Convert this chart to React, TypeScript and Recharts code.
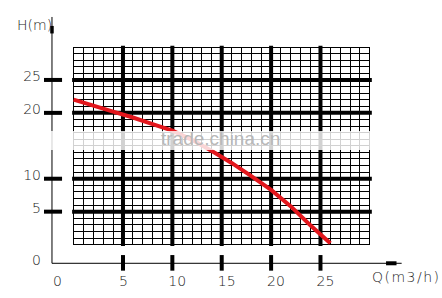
import { LineChart, Line, XAxis, YAxis, ReferenceLine } from 'recharts';

// pump curve: flow Q (m3/h) vs head H (m)
const flowRate = [0, 2, 4, 6, 8, 10, 12, 14, 16, 18, 20, 22, 24, 26];
const head = [22, 21.1, 20.2, 19.3, 18.3, 17.3, 15.9, 14.2, 12.4, 10.4, 8.3, 5.8, 2.9, 0.2];

const majorQ = [5, 10, 15, 20, 25];
const majorH = [5, 10, 20, 25];
const minorSteps = Array.from({ length: 31 }, (_, i) => i);

// the drawn axes sit outside the grid, crossing here
const ORIGIN_Q = -2.19;
const ORIGIN_H = -2.84;
const xTickValues = [ORIGIN_Q, 5, 10, 15, 20, 25];
const yTickValues = [ORIGIN_H, 5, 10, 20, 25];

const curveData = flowRate.map((q, i) => ({ q, h: head[i] }));

const labelStyle = {
  fontFamily: "'DejaVu Sans', sans-serif",
  fontSize: 14,
  fontWeight: 200,
  fill: '#1a1a1a',
};

function XTick({ x, payload }: any) {
  const isOrigin = payload.value === ORIGIN_Q;
  return (
    <text x={x + (isOrigin ? 1 : -4)} y={286} textAnchor="start" style={labelStyle}>
      {isOrigin ? '0' : payload.value}
    </text>
  );
}

function YTick({ y, payload }: any) {
  const isOrigin = payload.value === ORIGIN_H;
  return (
    <text x={41} y={y + 1.5} textAnchor="end" style={labelStyle}>
      {isOrigin ? '0' : payload.value}
    </text>
  );
}

export default function App() {
  return (
    <div style={{ position: 'absolute', left: 0, top: 0, width: 442, height: 298, background: '#fff' }}>
      <LineChart
        width={442}
        height={298}
        data={curveData}
        margin={{ top: 7.5, right: 12.9, bottom: 0, left: 0 }}
      >
        <XAxis
          dataKey="q"
          type="number"
          domain={[-4, 36]}
          ticks={xTickValues}
          interval={0}
          height={13.9}
          axisLine={false}
          tickLine={false}
          tick={(props: any) => <XTick {...props} />}
          label={() => (
            <text x={372} y={282} style={{ ...labelStyle, letterSpacing: 1.5 }}>
              Q(m3/h)
            </text>
          )}
        />
        <YAxis
          type="number"
          domain={[-6, 36]}
          ticks={yTickValues}
          interval={0}
          width={34.1}
          axisLine={false}
          tickLine={false}
          tick={(props: any) => <YTick {...props} />}
          label={() => (
            <text x={17} y={30} style={labelStyle}>
              H(m)
            </text>
          )}
        />

        {minorSteps.map((v) => (
          <ReferenceLine
            key={'mq' + v}
            segment={[{ x: v, y: 0 }, { x: v, y: 30 }]}
            stroke="#000"
            strokeWidth={1}
            shapeRendering="crispEdges"
          />
        ))}
        {minorSteps.map((v) => (
          <ReferenceLine
            key={'mh' + v}
            segment={[{ x: 0, y: v }, { x: 30, y: v }]}
            stroke="#000"
            strokeWidth={1}
            shapeRendering="crispEdges"
          />
        ))}
        {majorQ.map((v) => (
          <ReferenceLine
            key={'Mq' + v}
            segment={[{ x: v, y: -0.2 }, { x: v, y: 30.2 }]}
            stroke="#000"
            strokeWidth={4}
          />
        ))}
        {majorH.map((v) => (
          <ReferenceLine
            key={'Mh' + v}
            segment={[{ x: -0.15, y: v }, { x: 30.2, y: v }]}
            stroke="#000"
            strokeWidth={4}
          />
        ))}

        {/* axes */}
        <ReferenceLine
          segment={[{ x: ORIGIN_Q, y: ORIGIN_H }, { x: ORIGIN_Q, y: 34.56 }]}
          stroke="#000"
          strokeWidth={1}
        />
        <ReferenceLine
          segment={[{ x: ORIGIN_Q, y: 32.06 }, { x: ORIGIN_Q, y: 33.2 }]}
          stroke="#000"
          strokeWidth={3.5}
        />
        <ReferenceLine
          segment={[{ x: ORIGIN_Q, y: ORIGIN_H }, { x: 33.22, y: ORIGIN_H }]}
          stroke="#000"
          strokeWidth={1}
        />
        <ReferenceLine
          segment={[{ x: 31.64, y: ORIGIN_H }, { x: 32.7, y: ORIGIN_H }]}
          stroke="#000"
          strokeWidth={4}
        />
        {majorQ.map((v) => (
          <ReferenceLine
            key={'tq' + v}
            segment={[{ x: v, y: -1.59 }, { x: v, y: -3.96 }]}
            stroke="#000"
            strokeWidth={4}
          />
        ))}
        {majorH.map((v) => (
          <ReferenceLine
            key={'th' + v}
            segment={[{ x: -3.0, y: v }, { x: -1.17, y: v }]}
            stroke="#000"
            strokeWidth={4}
          />
        ))}

        <Line
          type="linear"
          dataKey="h"
          stroke="#e3161c"
          strokeWidth={4}
          dot={false}
          activeDot={false}
          isAnimationActive={false}
        />
      </LineChart>
      <div
        style={{
          position: 'absolute',
          left: 0,
          top: 131,
          width: 442,
          height: 19,
          background: 'rgba(255,255,255,0.82)',
        }}
      >
        <span
          style={{
            position: 'absolute',
            left: 161,
            top: -2,
            fontFamily: "'Liberation Sans', sans-serif",
            fontSize: 19,
            lineHeight: '19px',
            color: '#b8b8b8',
          }}
        >
          trade.china.cn
        </span>
      </div>
    </div>
  );
}
